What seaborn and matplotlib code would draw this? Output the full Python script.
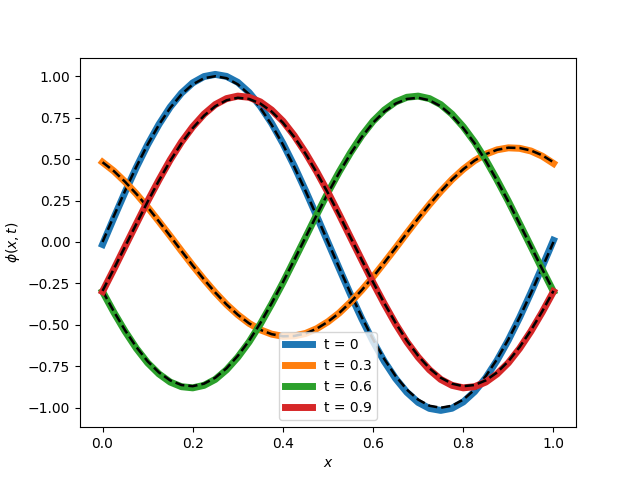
import numpy as np
import matplotlib
matplotlib.use("Agg")
import matplotlib.pyplot as plt
import seaborn as sns

# x grid, step 0.025
x = np.linspace(0.0, 1.0, 41)
times = ["0", "0.3", "0.6", "0.9"]

# network prediction (thick lines)
pred_t0 = [-0.015, 0.145, 0.301, 0.450, 0.587, 0.709, 0.814, 0.898, 0.960, 0.998, 1.011,
           0.999, 0.963, 0.902, 0.819, 0.716, 0.595, 0.459, 0.311, 0.156, -0.003,
           -0.161, -0.317, -0.464, -0.600, -0.721, -0.824, -0.907, -0.968, -1.004, -1.016,
           -1.003, -0.965, -0.903, -0.819, -0.714, -0.592, -0.455, -0.306, -0.150, 0.010]
pred_t03 = [0.481, 0.428, 0.363, 0.290, 0.210, 0.124, 0.036, -0.054, -0.142, -0.226, -0.305,
            -0.377, -0.439, -0.491, -0.530, -0.556, -0.569, -0.567, -0.552, -0.523, -0.481,
            -0.428, -0.363, -0.290, -0.210, -0.124, -0.036, 0.054, 0.142, 0.226, 0.305,
            0.377, 0.439, 0.491, 0.530, 0.556, 0.568, 0.565, 0.549, 0.518, 0.474]
pred_t06 = [-0.299, -0.424, -0.539, -0.642, -0.729, -0.796, -0.845, -0.873, -0.880, -0.865, -0.829,
            -0.771, -0.695, -0.603, -0.495, -0.374, -0.246, -0.110, 0.027, 0.165, 0.299,
            0.424, 0.539, 0.642, 0.729, 0.796, 0.845, 0.873, 0.880, 0.865, 0.829,
            0.771, 0.695, 0.603, 0.495, 0.374, 0.246, 0.110, -0.027, -0.165, -0.299]
pred_t09 = [-0.299, -0.165, -0.027, 0.110, 0.246, 0.374, 0.495, 0.603, 0.695, 0.771, 0.829,
            0.865, 0.880, 0.873, 0.845, 0.796, 0.729, 0.642, 0.539, 0.424, 0.299,
            0.165, 0.027, -0.110, -0.246, -0.374, -0.495, -0.603, -0.695, -0.771, -0.829,
            -0.865, -0.880, -0.873, -0.845, -0.796, -0.729, -0.642, -0.539, -0.424, -0.299]

# exact solution (black dashed)
exact_t0 = [0.0, 0.156, 0.309, 0.454, 0.588, 0.707, 0.809, 0.891, 0.951, 0.988, 1.0,
            0.988, 0.951, 0.891, 0.809, 0.707, 0.588, 0.454, 0.309, 0.156, 0.0,
            -0.156, -0.309, -0.454, -0.588, -0.707, -0.809, -0.891, -0.951, -0.988, -1.0,
            -0.988, -0.951, -0.891, -0.809, -0.707, -0.588, -0.454, -0.309, -0.156, 0.0]
exact_t03 = [0.481, 0.428, 0.363, 0.290, 0.210, 0.124, 0.036, -0.054, -0.142, -0.226, -0.305,
             -0.377, -0.439, -0.491, -0.530, -0.556, -0.569, -0.567, -0.552, -0.523, -0.481,
             -0.428, -0.363, -0.290, -0.210, -0.124, -0.036, 0.054, 0.142, 0.226, 0.305,
             0.377, 0.439, 0.491, 0.530, 0.556, 0.569, 0.567, 0.552, 0.523, 0.481]
exact_t06 = [-0.295, -0.419, -0.533, -0.634, -0.720, -0.787, -0.835, -0.863, -0.870, -0.855, -0.819,
             -0.762, -0.687, -0.596, -0.489, -0.370, -0.243, -0.109, 0.027, 0.163, 0.295,
             0.419, 0.533, 0.634, 0.720, 0.787, 0.835, 0.863, 0.870, 0.855, 0.819,
             0.762, 0.687, 0.596, 0.489, 0.370, 0.243, 0.109, -0.027, -0.163, -0.295]
exact_t09 = [-0.295, -0.163, -0.027, 0.109, 0.243, 0.370, 0.489, 0.596, 0.687, 0.762, 0.819,
             0.855, 0.870, 0.863, 0.835, 0.787, 0.720, 0.634, 0.533, 0.419, 0.295,
             0.163, 0.027, -0.109, -0.243, -0.370, -0.489, -0.596, -0.687, -0.762, -0.819,
             -0.855, -0.870, -0.863, -0.835, -0.787, -0.720, -0.634, -0.533, -0.419, -0.295]

preds = [pred_t0, pred_t03, pred_t06, pred_t09]
exacts = [exact_t0, exact_t03, exact_t06, exact_t09]
colors = sns.color_palette("tab10", 4)

fig, ax = plt.subplots(figsize=(6.4, 4.8), dpi=100)
for t, p, e, c in zip(times, preds, exacts, colors):
    sns.lineplot(x=x, y=p, ax=ax, color=c, linewidth=5, label="t = " + t)
    sns.lineplot(x=x, y=e, ax=ax, color="k", linewidth=1.8, linestyle="--")

ax.set_xlabel("$x$")
ax.set_ylabel(r"$\phi(x,t)$")
ax.legend(loc="lower center")
plt.savefig("out.png", dpi=100)
